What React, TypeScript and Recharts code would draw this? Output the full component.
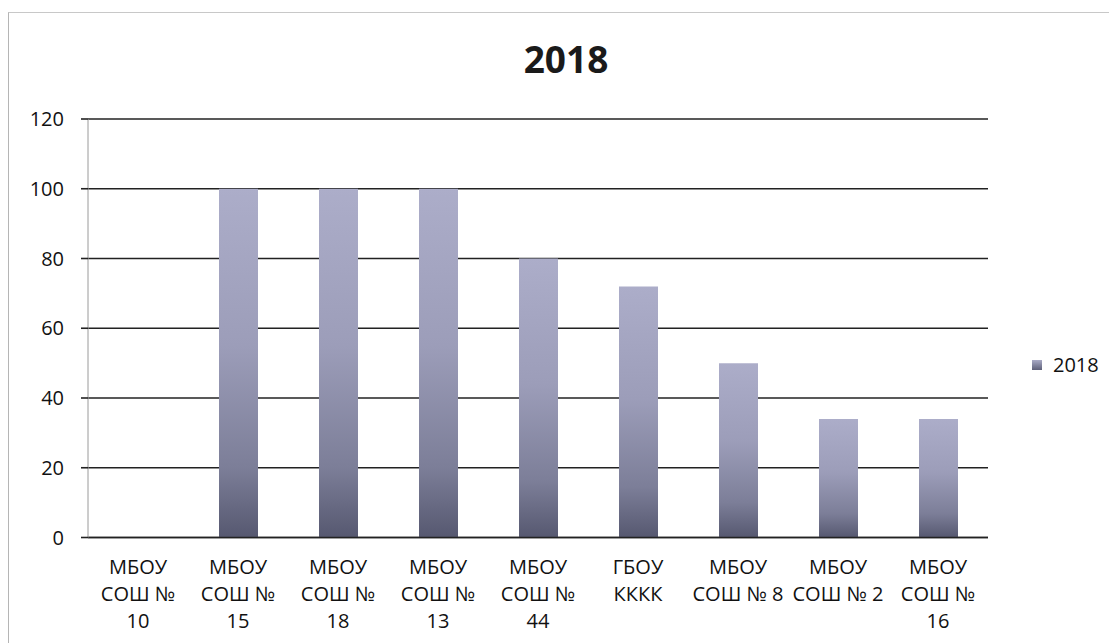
import React from "react";
import { BarChart, Bar, XAxis, YAxis, CartesianGrid } from "recharts";

const categories = [
  "МБОУ СОШ № 10",
  "МБОУ СОШ № 15",
  "МБОУ СОШ № 18",
  "МБОУ СОШ № 13",
  "МБОУ СОШ № 44",
  "ГБОУ КККК",
  "МБОУ СОШ № 8",
  "МБОУ СОШ № 2",
  "МБОУ СОШ № 16",
];
const values2018 = [0, 100, 100, 100, 80, 72, 50, 34, 34];
const yTicks = [0, 20, 40, 60, 80, 100, 120];
const seriesName = "2018";
const title = "2018";

const data = categories.map((c, i) => ({ name: c, v: values2018[i] }));

const FONT = "'Open Sans', sans-serif";

function wrap(label: string, max: number): string[] {
  const words = label.split(" ");
  const lines: string[] = [];
  let cur = "";
  for (const w of words) {
    const next = cur ? cur + " " + w : w;
    if (next.length > max && cur) {
      lines.push(cur);
      cur = w;
    } else {
      cur = next;
    }
  }
  if (cur) lines.push(cur);
  return lines;
}

const XTick = (props: any) => {
  const { x, y, payload } = props;
  const lines = wrap(String(payload.value), 7);
  return (
    <text x={x} y={y} textAnchor="middle" fill="#111" fontSize={20} fontFamily={FONT}>
      {lines.map((l, i) => (
        <tspan key={i} x={x} dy={i === 0 ? 28 : 27}>
          {l}
        </tspan>
      ))}
    </text>
  );
};

export default function App() {
  return (
    <div style={{ position: "relative", width: 1109, height: 635, background: "#fff" }}>
      <div
        style={{
          position: "absolute",
          left: 0,
          top: 4,
          right: 0,
          bottom: 0,
          borderLeft: "1px solid #b5b5b5",
          borderTop: "1px solid #c8c8c8",
        }}
      />
      <div
        style={{
          position: "absolute",
          left: 458,
          width: 200,
          top: 28,
          textAlign: "center",
          fontFamily: FONT,
          fontWeight: 700,
          fontSize: 37,
          lineHeight: "46px",
          color: "#1a1a1a",
        }}
      >
        {title}
      </div>
      <div
        style={{
          position: "absolute",
          left: 1024,
          top: 343,
          display: "flex",
          alignItems: "center",
          fontFamily: FONT,
          fontSize: 20,
          color: "#111",
        }}
      >
        <svg width={10} height={10} style={{ marginRight: 11 }}>
          <defs>
            <linearGradient id="legGrad" x1="0" y1="0" x2="0" y2="1">
              <stop offset="0%" stopColor="#a9aac6" />
              <stop offset="100%" stopColor="#5d5f78" />
            </linearGradient>
          </defs>
          <rect width={10} height={10} fill="url(#legGrad)" />
        </svg>
        <span>{seriesName}</span>
      </div>
      <div style={{ position: "absolute", left: 0, top: 0 }}>
        <BarChart
          width={1109}
          height={635}
          data={data}
          margin={{ top: 111, right: 129, bottom: 25.5, left: 0 }}
        >
          <defs>
            <linearGradient id="barGrad" x1="0" y1="0" x2="0" y2="1">
              <stop offset="0%" stopColor="#acadc9" />
              <stop offset="45%" stopColor="#9c9db9" />
              <stop offset="80%" stopColor="#7c7e98" />
              <stop offset="100%" stopColor="#565870" />
            </linearGradient>
          </defs>
          <CartesianGrid vertical={false} stroke="#222" strokeWidth={1.6} />
          <XAxis
            dataKey="name"
            height={80}
            interval={0}
            tickLine={false}
            axisLine={{ stroke: "#222", strokeWidth: 1.6 }}
            tick={<XTick />}
          />
          <YAxis
            width={80}
            domain={[0, 120]}
            ticks={yTicks}
            tickSize={7}
            tickMargin={17}
            tickLine={{ stroke: "#222", strokeWidth: 1.6 }}
            axisLine={{ stroke: "#9a9a9a", strokeWidth: 1 }}
            tick={{ fill: "#111", fontSize: 20, fontFamily: FONT }}
          />
          <Bar dataKey="v" name={seriesName} fill="url(#barGrad)" barSize={39} isAnimationActive={false} />
        </BarChart>
      </div>
    </div>
  );
}
